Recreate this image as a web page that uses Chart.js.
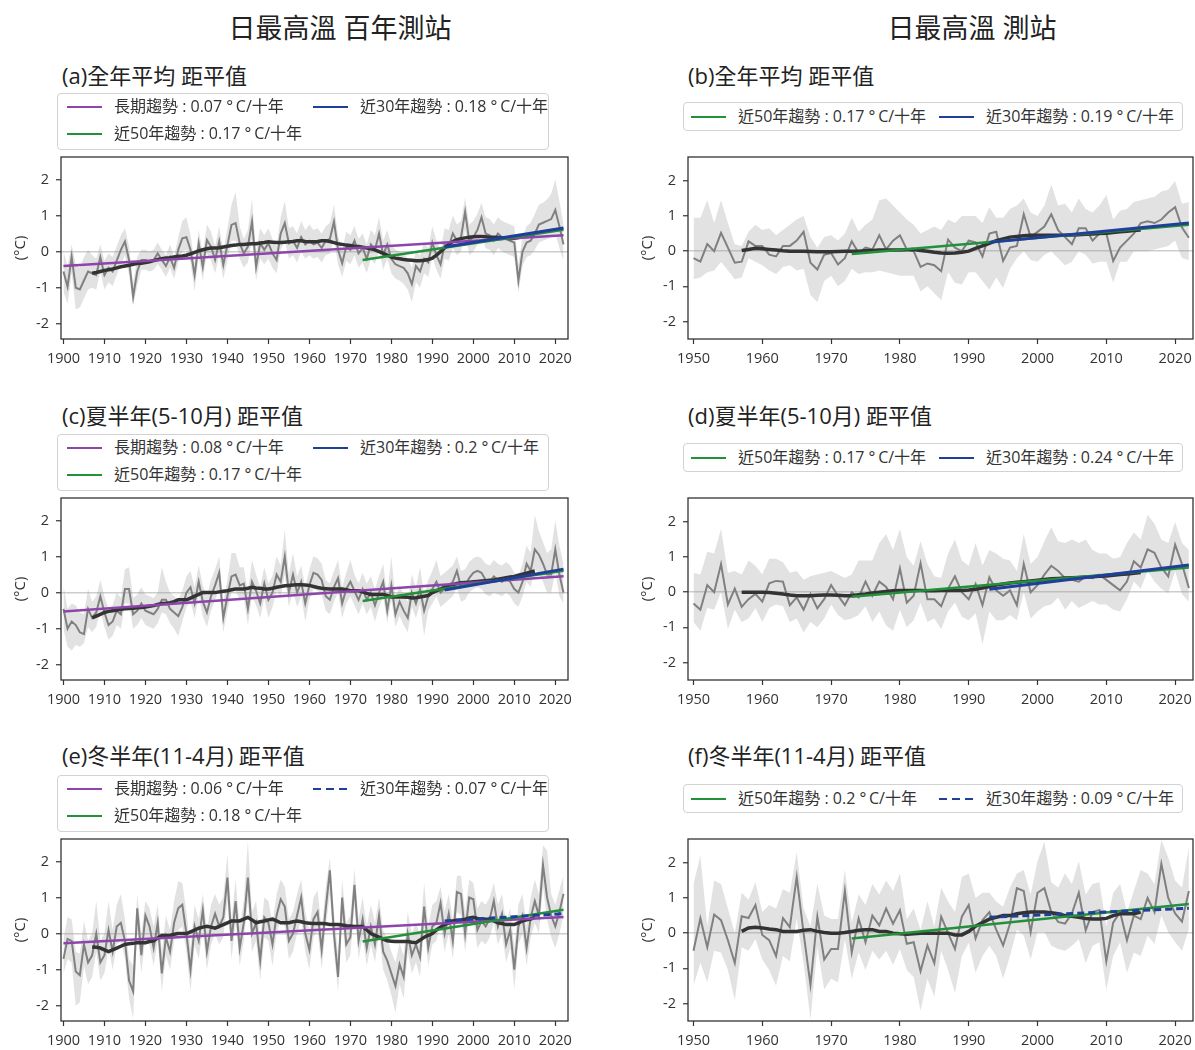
<!DOCTYPE html>
<html lang="zh-Hant">
<head>
<meta charset="utf-8">
<title>日最高溫 距平值</title>
<script src="https://cdn.jsdelivr.net/npm/chart.js@4.4.1/dist/chart.umd.min.js"></script>
<style>
  html, body { margin: 0; padding: 0; background: #fff; }
  body { position: relative; width: 1195px; height: 1050px; overflow: hidden;
         font-family: "Open Sans", "Noto Sans CJK TC", sans-serif; color: #222; }
  .abs { position: absolute; white-space: nowrap; }
  .head { font-size: 27px; line-height: 36px; top: 10px; transform: translateX(-50%); }
  .ptitle { font-size: 22px; line-height: 28px; }
  .legend { border: 1px solid #d2d2d2; border-radius: 4px; background: #fff; box-sizing: border-box; }
  .item { position: absolute; font-size: 16px; line-height: 20px; color: #333; }
  .swatch { position: absolute; width: 35px; height: 2.5px; }
  canvas { position: absolute; }
</style>
</head>
<body>
<script>
// ---------- years & ticks ----------
const leftStart = 1900, rightStart = 1950, lastYear = 2022;
const smoothStartLeft = 1907, smoothStartRight = 1957;
const tickYearsLeft = [1900, 1910, 1920, 1930, 1940, 1950, 1960, 1970, 1980, 1990, 2000, 2010, 2020];
const tickYearsRight = [1950, 1960, 1970, 1980, 1990, 2000, 2010, 2020];
const tickTemps = [-2, -1, 0, 1, 2];

// ---------- (a) century stations, annual ----------
const anomA = [
  -0.55,-0.97,-0.14,-1.0,-1.05,-0.8,-0.55,-0.6,-0.65,-0.15,
  -0.65,-0.45,-0.55,-0.25,0.05,0.28,-0.23,-1.25,-0.55,-0.23,
  -0.23,-0.28,-0.23,-0.05,-0.23,-0.4,-0.15,-0.45,0.05,0.37,
  0.4,0.05,-0.65,0.23,-0.42,0.32,0.14,-0.23,0.28,-0.37,
  0.18,0.74,0.79,0.23,-0.05,0.14,0.83,-0.42,0.23,0.05,
  0.23,-0.05,-0.23,0.5,0.79,0.23,0.3,0.1,0.4,0.2,
  0.3,0.2,0.25,0.1,0.3,0.35,0.83,0.05,-0.32,0.14,
  0.05,0.3,-0.05,0.1,-0.2,0.2,0.05,0.5,-0.1,0.2,
  -0.2,-0.35,-0.4,-0.45,-0.6,-0.9,-0.4,-0.55,-0.2,-0.3,
  0.25,-0.1,-0.35,0.2,0.15,0.5,0.3,0.4,1.1,0.3,
  0.4,0.6,0.95,0.5,0.45,0.3,0.5,0.4,0.35,0.3,
  0.25,-0.8,0.0,0.25,0.3,0.5,0.75,0.8,0.85,0.9,
  1.15,0.7,0.2];
const highA = [
  0.0,-0.4,0.2,-0.35,-0.45,-0.15,0.05,-0.1,-0.2,0.2,
  -0.25,-0.05,-0.15,0.15,0.45,0.65,0.15,-0.9,-0.15,0.05,
  0.05,0.0,0.05,0.25,0.05,-0.1,0.2,-0.15,0.4,0.85,
  0.95,0.45,-0.3,0.6,-0.05,0.75,0.55,0.15,0.7,0.0,
  0.65,1.3,1.65,0.7,0.35,0.6,1.45,0.0,0.65,0.45,
  0.65,0.35,0.15,0.95,1.4,0.65,0.7,0.5,0.85,0.6,
  0.75,0.6,0.65,0.5,0.7,0.8,1.3,0.45,0.05,0.55,
  0.45,0.7,0.35,0.5,0.2,0.6,0.45,0.95,0.3,0.6,
  0.2,0.05,0.0,-0.05,-0.2,-0.45,0.0,-0.1,0.25,0.1,
  0.7,0.3,0.05,0.65,0.6,1.0,0.75,0.85,1.5,0.75,
  0.85,1.05,1.35,0.95,0.9,0.75,0.95,0.85,0.8,0.75,
  0.7,-0.35,0.4,0.7,0.8,1.05,1.3,1.35,1.45,1.6,
  2.0,1.4,0.75];
const lowA = [
  -1.1,-1.45,-0.6,-1.6,-1.55,-1.3,-1.05,-1.0,-1.05,-0.55,
  -1.05,-0.85,-0.95,-0.65,-0.35,-0.1,-0.65,-1.5,-0.95,-0.5,
  -0.5,-0.55,-0.5,-0.35,-0.5,-0.7,-0.45,-0.75,-0.3,0.0,
  0.05,-0.3,-1.1,-0.15,-0.8,-0.05,-0.25,-0.6,-0.1,-0.75,
  -0.25,0.3,0.3,-0.2,-0.45,-0.3,0.35,-0.8,-0.2,-0.35,
  -0.2,-0.45,-0.6,0.05,0.3,-0.2,-0.1,-0.3,0.0,-0.2,
  -0.1,-0.2,-0.15,-0.3,-0.1,-0.05,0.35,-0.35,-0.7,-0.25,
  -0.35,-0.1,-0.45,-0.3,-0.6,-0.2,-0.35,0.05,-0.5,-0.2,
  -0.6,-0.75,-0.8,-0.9,-1.05,-1.4,-0.85,-1.0,-0.6,-0.7,
  -0.15,-0.5,-0.75,-0.2,-0.25,0.1,-0.1,0.0,0.6,-0.1,
  0.0,0.2,0.5,0.1,0.05,-0.1,0.1,0.0,-0.05,-0.1,
  -0.15,-1.15,-0.4,-0.15,-0.1,0.05,0.25,0.3,0.35,0.4,
  0.5,0.1,-0.25];
const smoothA = [
  -0.6,-0.58,-0.55,
  -0.52,-0.5,-0.48,-0.45,-0.42,-0.4,-0.38,-0.35,-0.33,-0.32,
  -0.3,-0.28,-0.25,-0.22,-0.2,-0.18,-0.17,-0.15,-0.13,-0.12,
  -0.1,-0.06,-0.02,0.02,0.05,0.08,0.1,0.1,0.11,0.13,
  0.15,0.17,0.18,0.2,0.2,0.21,0.22,0.22,0.24,0.25,
  0.27,0.26,0.25,0.25,0.26,0.27,0.28,0.3,0.3,0.28,
  0.27,0.27,0.28,0.3,0.3,0.28,0.25,0.22,0.2,0.18,
  0.17,0.15,0.14,0.12,0.1,0.08,0.05,0.0,-0.05,-0.1,
  -0.15,-0.18,-0.2,-0.22,-0.23,-0.24,-0.25,-0.25,-0.24,-0.22,
  -0.18,-0.1,0.0,0.1,0.2,0.28,0.33,0.36,0.38,0.4,
  0.41,0.42,0.42,0.41,0.4,0.4,0.39,0.38,0.37,0.36,
  0.37,0.39,0.42,0.45,0.48,0.5];
const slopesA = [0.07, 0.17, 0.18];
const trendStartA = [-0.4, -0.23, 0.13];

// ---------- (c) century stations, May-Oct ----------
const anomC = [
  -0.45,-1.0,-0.8,-0.9,-1.1,-1.15,-0.45,-0.7,-0.55,-0.1,
  -0.55,-0.9,-0.8,-0.5,-0.6,0.1,0.1,-0.6,-0.5,-0.3,
  -0.5,-0.55,-0.6,-0.45,-0.2,-0.2,-0.45,-0.55,-0.65,-0.4,
  0.0,0.15,-0.3,0.3,-0.25,-0.55,-0.1,0.2,0.55,-0.7,
  -0.1,0.45,0.5,0.2,0.25,-0.45,0.3,0.05,-0.3,0.25,
  -0.2,0.0,0.5,0.3,1.0,0.0,0.5,0.0,0.3,-0.3,
  0.2,0.55,0.5,0.35,-0.1,-0.2,0.15,0.4,-0.3,0.1,
  0.3,0.05,-0.2,0.1,-0.2,0.0,-0.35,0.0,0.3,-0.5,
  0.2,-0.6,-0.25,-0.5,-0.7,0.0,-0.3,0.1,-0.5,-0.1,
  0.1,0.3,0.0,0.1,0.2,0.3,0.6,0.15,0.2,0.4,
  0.55,0.6,0.55,0.35,0.3,0.45,0.35,0.3,0.4,0.3,
  0.1,0.0,0.3,0.8,0.6,1.2,1.05,0.8,0.5,0.5,
  1.2,0.5,0.0];
const highC = [
  0.2,-0.45,-0.3,-0.35,-0.55,-0.6,0.1,-0.25,-0.1,0.35,
  -0.1,-0.45,-0.35,0.0,-0.15,0.65,0.7,-0.15,-0.05,0.15,
  -0.05,-0.1,-0.15,0.0,0.7,0.3,0.0,-0.1,-0.2,0.05,
  0.45,0.6,0.15,0.75,0.2,-0.1,0.35,0.65,1.0,-0.25,
  0.35,1.1,1.1,0.7,0.7,0.0,0.9,0.5,0.15,0.7,
  0.25,0.45,1.0,0.75,1.75,0.5,1.1,0.45,0.75,0.15,
  0.65,1.0,0.95,0.8,0.35,0.25,0.6,0.9,0.15,0.55,
  0.9,0.5,0.25,0.55,0.25,0.45,0.1,0.45,0.8,-0.05,
  1.0,-0.15,0.2,-0.05,-0.25,0.5,0.15,0.7,-0.05,0.35,
  0.6,0.9,0.45,0.55,0.65,0.75,1.0,0.6,0.65,0.85,
  0.95,1.0,0.95,0.8,0.75,0.9,0.8,0.75,0.85,0.75,
  0.55,0.45,0.8,1.3,1.1,2.15,1.7,1.4,1.1,1.2,
  2.0,1.3,0.8];
const lowC = [
  -1.0,-1.5,-1.6,-1.45,-1.5,-1.4,-0.95,-1.1,-0.95,-0.5,
  -0.95,-1.3,-1.2,-0.9,-1.0,-0.3,-0.3,-1.0,-0.9,-0.7,
  -0.9,-0.95,-1.0,-0.85,-0.55,-0.6,-0.85,-1.0,-1.2,-0.8,
  -0.4,-0.25,-0.7,-0.1,-0.65,-0.95,-0.5,-0.2,0.1,-1.1,
  -0.5,0.0,0.05,-0.2,-0.15,-0.9,-0.1,-0.35,-0.7,-0.15,
  -0.7,-0.4,0.05,-0.1,0.5,-0.4,0.05,-0.4,-0.1,-0.8,
  -0.2,0.1,0.05,-0.05,-0.5,-0.6,-0.25,0.0,-0.7,-0.3,
  -0.1,-0.35,-0.6,-0.3,-0.6,-0.4,-0.8,-0.4,-0.1,-0.85,
  -0.2,-0.95,-0.65,-0.9,-1.1,-0.4,-0.7,-0.3,-1.2,-0.5,
  -0.3,-0.1,-0.4,-0.3,-0.2,-0.1,0.15,-0.25,-0.2,0.0,
  0.1,0.15,0.1,-0.05,-0.1,0.0,-0.05,-0.1,0.0,-0.1,
  -0.3,-0.4,-0.1,0.3,0.15,0.65,0.5,0.3,0.0,0.0,
  0.6,-0.1,-0.3];
const smoothC = [
  -0.7,-0.65,-0.6,
  -0.55,-0.52,-0.5,-0.48,-0.46,-0.45,-0.44,-0.43,-0.42,-0.41,
  -0.4,-0.38,-0.36,-0.33,-0.3,-0.3,-0.28,-0.25,-0.2,-0.2,
  -0.2,-0.15,-0.1,-0.05,0.0,0.0,0.0,0.0,0.02,0.04,
  0.05,0.08,0.1,0.1,0.1,0.12,0.15,0.13,0.12,0.1,
  0.1,0.12,0.15,0.17,0.19,0.2,0.21,0.22,0.22,0.21,
  0.2,0.17,0.14,0.12,0.11,0.1,0.1,0.1,0.1,0.08,
  0.05,0.05,0.05,0.02,-0.02,-0.05,-0.05,-0.05,-0.05,-0.08,
  -0.12,-0.12,-0.12,-0.12,-0.13,-0.15,-0.14,-0.12,-0.1,-0.08,
  0.0,0.05,0.1,0.15,0.2,0.22,0.25,0.27,0.28,0.29,
  0.3,0.31,0.32,0.33,0.34,0.35,0.37,0.39,0.41,0.43,
  0.45,0.48,0.51,0.54,0.57,0.6];
const slopesC = [0.08, 0.17, 0.2];
const trendStartC = [-0.52, -0.23, 0.07];

// ---------- (e) century stations, Nov-Apr ----------
const anomE = [
  -0.7,-0.15,-0.2,-1.05,-1.15,-0.3,-0.8,-0.6,0.0,-0.8,
  -0.6,0.1,-0.5,0.2,0.3,-0.2,-1.3,-1.6,0.7,-0.6,
  0.5,0.2,-0.4,0.3,-1.1,-0.1,-0.5,0.3,0.7,0.8,
  0.0,-1.0,0.2,-0.2,0.65,-0.5,0.2,0.55,0.2,0.45,
  1.55,-0.2,0.9,-0.4,0.3,1.55,0.0,0.3,-0.75,0.45,
  0.3,-0.3,0.5,0.95,0.75,-0.2,0.0,0.5,1.0,0.0,
  -0.45,0.4,0.6,-0.45,0.7,1.75,0.0,-1.2,1.0,-0.3,
  -0.1,1.35,-0.2,0.4,-0.4,0.2,-0.3,0.5,-0.5,-0.75,
  -1.1,-1.45,-0.85,-1.2,0.0,-0.6,-0.3,-0.65,0.75,-0.4,
  0.2,0.3,0.85,0.0,0.55,-0.2,1.15,1.1,0.0,1.0,
  0.95,0.1,0.35,0.2,0.4,0.9,0.2,0.55,-0.3,0.1,
  -1.0,0.2,0.5,-0.4,0.45,0.9,0.5,1.9,1.0,0.5,
  0.2,0.6,1.1];
const highE = [
  -0.15,0.45,0.4,-0.5,-0.55,0.35,-0.2,0.0,0.9,-0.2,
  0.0,0.9,0.1,0.8,1.1,0.4,-0.7,-0.9,1.1,0.0,
  0.9,0.7,0.2,0.8,-0.5,0.5,0.1,0.9,1.45,1.4,
  0.6,-0.4,0.8,0.4,1.1,0.1,0.8,1.1,0.8,1.0,
  2.2,0.4,1.5,0.2,0.9,2.55,0.6,0.9,-0.15,1.0,
  0.9,0.3,1.1,1.5,1.3,0.4,0.6,1.1,1.5,0.6,
  0.1,1.0,1.2,0.1,1.3,2.1,0.6,-0.6,1.5,0.3,
  0.5,1.8,0.4,1.0,0.2,0.8,0.3,1.0,0.1,-0.15,
  -0.5,-0.8,-0.25,-0.6,0.6,0.0,0.3,-0.05,1.4,0.2,
  0.8,0.9,1.3,0.6,1.1,0.4,1.6,1.6,0.6,1.5,
  1.4,0.7,0.9,0.8,1.0,1.4,0.8,1.1,0.3,0.7,
  -0.4,0.8,1.1,0.2,1.0,1.5,1.1,2.45,2.3,1.1,
  0.8,1.2,1.6];
const lowE = [
  -1.1,-0.7,-0.8,-2.0,-1.9,-0.9,-1.4,-1.2,-0.5,-1.3,
  -1.1,-0.4,-1.0,-0.3,-0.2,-0.7,-1.8,-2.35,0.1,-1.1,
  -0.1,-0.3,-0.9,-0.2,-1.6,-0.6,-1.0,-0.2,0.1,0.2,
  -0.5,-1.6,-0.3,-0.7,0.1,-1.0,-0.3,0.0,-0.3,-0.1,
  0.9,-0.7,0.3,-0.9,-0.2,0.9,-0.5,-0.2,-1.3,-0.1,
  -0.2,-0.9,0.0,0.4,0.2,-0.7,-0.5,0.0,0.4,-0.5,
  -1.0,-0.1,0.1,-1.0,0.2,1.1,-0.5,-1.6,0.4,-0.8,
  -0.6,0.8,-0.7,-0.1,-0.9,-0.3,-0.8,0.0,-1.0,-1.3,
  -1.7,-2.2,-1.4,-1.8,-0.5,-1.1,-0.8,-1.2,0.2,-0.9,
  -0.3,-0.2,0.3,-0.5,0.0,-0.7,0.6,0.5,-0.5,0.4,
  0.4,-0.4,-0.2,-0.3,-0.1,0.3,-0.3,0.0,-0.8,-0.4,
  -1.55,-0.3,0.0,-0.9,-0.1,0.3,0.0,1.3,0.4,-0.1,
  -0.4,0.0,0.5];
const smoothE = [
  -0.37,-0.38,-0.4,
  -0.45,-0.5,-0.45,-0.4,-0.35,-0.3,-0.28,-0.27,-0.25,-0.25,
  -0.25,-0.22,-0.2,-0.12,-0.05,-0.05,-0.05,-0.02,0.0,0.0,
  0.0,0.05,0.1,0.15,0.18,0.2,0.18,0.15,0.2,0.25,
  0.3,0.35,0.35,0.35,0.4,0.45,0.38,0.3,0.33,0.35,
  0.38,0.4,0.35,0.3,0.3,0.3,0.33,0.35,0.33,0.3,
  0.29,0.28,0.28,0.28,0.27,0.25,0.25,0.25,0.24,0.22,
  0.21,0.2,0.2,0.2,0.1,0.0,-0.05,-0.1,-0.15,-0.2,
  -0.21,-0.22,-0.22,-0.22,-0.22,-0.24,-0.25,-0.18,-0.1,-0.05,
  0.0,0.1,0.18,0.25,0.3,0.35,0.37,0.38,0.4,0.43,
  0.45,0.42,0.4,0.4,0.4,0.35,0.3,0.28,0.25,0.25,
  0.25,0.3,0.35,0.38,0.4,0.45];
const slopesE = [0.06, 0.18, 0.07];
const trendStartE = [-0.27, -0.22, 0.35];

// ---------- (b) all stations, annual ----------
const anomB = [
  -0.2,-0.3,0.2,0.0,0.52,0.1,-0.33,-0.3,0.28,0.15,
  0.15,-0.1,-0.15,0.15,0.15,0.3,0.55,-0.33,-0.52,-0.1,
  -0.05,-0.38,-0.2,0.28,-0.05,0.1,0.05,0.45,0.05,0.3,
  0.45,0.05,0.0,-0.45,-0.35,-0.4,-0.57,0.33,0.1,0.0,
  0.3,0.25,-0.15,0.5,0.55,-0.28,0.1,0.15,1.05,0.4,
  0.55,0.7,1.05,0.6,0.4,0.2,0.65,0.65,0.3,0.5,
  0.5,-0.28,0.1,0.3,0.5,0.8,0.85,0.8,0.9,1.1,
  1.25,0.67,0.38];
const highB = [
  0.95,0.95,1.45,0.8,1.45,0.8,0.2,0.15,0.55,0.75,
  0.6,0.65,0.45,0.6,0.75,0.9,1.0,0.4,0.1,0.4,
  0.45,0.3,0.5,0.95,0.55,0.75,0.9,1.45,1.5,1.3,
  1.1,0.9,0.75,0.5,0.6,0.7,0.6,0.9,0.8,1.0,
  1.0,1.0,0.8,1.25,0.95,0.95,1.2,1.3,1.5,1.1,
  1.0,1.3,1.9,1.3,1.35,1.1,1.5,1.2,1.1,1.3,
  1.6,0.9,1.15,1.2,1.4,1.45,1.5,1.55,1.7,1.75,
  2.0,1.35,1.4];
const lowB = [
  -0.8,-0.75,-0.6,-0.55,-0.3,-0.55,-0.8,-0.75,-0.2,-0.3,
  -0.4,-0.55,-0.65,-0.45,-0.4,-0.55,-0.5,-1.25,-1.45,-0.85,
  -0.7,-1.0,-0.85,-0.5,-0.65,-0.6,-0.6,-0.55,-0.6,-0.65,
  -0.7,-0.7,-0.7,-1.15,-1.0,-1.2,-1.4,-0.6,-0.9,-0.95,
  -0.6,-0.6,-0.85,-1.1,-0.75,-1.05,-0.5,-0.2,0.0,-0.25,
  -0.3,-0.1,0.0,-0.2,-0.4,-0.3,0.0,-0.1,-0.35,-0.3,
  -0.3,-0.9,-0.3,-0.3,0.0,0.0,0.0,0.05,0.1,0.15,
  0.3,-0.2,-0.25];
const smoothB = [
  0.02,0.05,0.08,
  0.07,0.05,0.03,0.01,0.0,0.0,0.0,-0.01,-0.02,-0.02,
  -0.02,-0.01,0.0,0.0,0.0,0.01,0.02,0.03,0.03,0.03,
  0.03,0.04,0.05,0.02,0.0,-0.03,-0.05,-0.06,-0.05,-0.03,
  0.0,0.08,0.15,0.22,0.3,0.35,0.4,0.42,0.44,0.45,
  0.45,0.45,0.45,0.45,0.45,0.46,0.47,0.48,0.49,0.5,
  0.51,0.53,0.55,0.57,0.59,0.6];
const slopesB = [0.17, 0.19];
const trendStartB = [-0.08, 0.25];

// ---------- (d) all stations, May-Oct ----------
const anomD = [
  -0.32,-0.5,0.2,0.0,0.8,-0.35,0.1,-0.42,-0.2,-0.05,
  -0.27,0.25,0.32,0.3,-0.37,-0.15,-0.5,-0.05,-0.46,-0.2,
  0.2,-0.1,-0.37,0.0,-0.15,0.3,-0.1,0.3,0.15,-0.2,
  0.68,-0.3,-0.1,0.82,-0.2,-0.2,-0.4,0.1,0.45,0.0,
  -0.2,0.23,-0.37,0.42,0.05,-0.1,0.05,-0.37,0.8,0.0,
  0.2,0.5,0.75,0.6,0.4,0.35,0.3,0.45,0.4,0.5,
  0.35,0.2,0.05,0.3,0.88,0.7,1.22,1.12,0.7,0.45,
  1.35,0.8,0.12];
const highD = [
  0.55,0.5,1.15,1.1,1.8,0.55,0.6,0.5,0.9,0.75,
  0.5,0.95,0.95,0.85,0.55,0.6,0.35,0.45,0.5,0.55,
  0.6,0.5,0.4,0.5,0.9,0.9,0.9,1.4,1.65,1.2,
  1.8,1.0,0.75,1.45,0.8,0.45,0.4,1.1,1.5,0.9,
  0.75,1.4,0.75,1.2,1.1,0.95,0.9,0.6,1.65,0.8,
  1.0,1.45,1.85,1.45,1.4,1.5,1.4,1.5,1.2,1.1,
  1.1,0.95,1.0,1.4,1.7,1.5,2.2,1.95,1.5,1.4,
  2.0,1.4,1.2];
const lowD = [
  -0.85,-1.1,-0.45,-0.5,0.0,-1.05,-0.5,-0.85,-0.75,-0.45,
  -0.85,-0.45,-0.35,-0.4,-0.85,-0.75,-1.15,-0.85,-1.0,-0.75,
  -0.35,-0.65,-0.8,-0.75,-0.65,-0.4,-0.85,-0.55,-0.95,-1.1,
  -0.5,-1.0,-0.8,-0.3,-0.85,-0.75,-1.05,-0.55,-0.3,-0.7,
  -0.8,-0.6,-1.48,-0.55,-0.8,-0.8,-0.65,-0.8,0.0,-0.75,
  -0.55,-0.4,-0.35,-0.15,-0.5,-0.25,-0.45,-0.35,-0.25,-0.35,
  -0.35,-0.5,-0.55,-0.2,0.3,0.1,0.6,0.3,0.1,-0.03,
  0.6,-0.05,-0.27];
const smoothD = [
  0.0,0.0,0.0,
  0.0,-0.01,-0.03,-0.05,-0.08,-0.1,-0.1,-0.1,-0.09,-0.08,
  -0.08,-0.09,-0.1,-0.1,-0.07,-0.05,-0.02,0.0,0.02,0.04,
  0.05,0.05,0.05,0.05,0.04,0.04,0.05,0.05,0.05,0.05,
  0.06,0.08,0.12,0.16,0.2,0.23,0.26,0.28,0.3,0.32,
  0.34,0.36,0.38,0.39,0.4,0.41,0.42,0.43,0.44,0.45,
  0.46,0.48,0.5,0.52,0.54,0.56];
const slopesD = [0.17, 0.24];
const trendStartD = [-0.13, 0.08];

// ---------- (f) all stations, Nov-Apr ----------
const anomF = [
  -0.5,0.42,-0.4,0.53,0.37,-0.2,-0.85,0.48,0.43,0.8,
  -0.05,-0.2,-0.65,0.43,0.17,1.6,0.0,-1.47,0.47,-0.75,
  -0.45,-0.45,1.2,-0.55,0.42,-0.26,0.5,0.22,0.7,0.27,
  0.65,-0.3,-0.26,-1.08,-0.35,-0.85,0.47,0.0,-0.45,0.47,
  0.8,-0.15,0.37,0.6,0.1,-0.35,0.27,1.28,1.2,0.03,
  1.15,1.28,0.6,0.32,0.27,0.56,1.15,0.08,0.6,0.66,
  -0.8,0.3,0.6,-0.2,0.5,0.4,1.0,0.6,1.97,1.0,
  0.56,0.33,1.2];
const highF = [
  1.4,2.2,0.2,1.5,1.4,0.7,0.0,1.15,0.95,1.45,
  0.6,0.8,0.7,1.25,1.15,2.3,0.7,0.2,1.4,0.5,
  0.4,0.4,1.8,0.3,1.1,0.8,1.4,1.1,1.5,1.2,
  1.7,0.4,0.7,0.1,0.9,0.2,1.3,0.9,0.6,1.6,
  1.7,1.0,1.15,1.15,0.9,0.75,1.3,1.7,1.8,1.1,
  2.05,2.6,1.45,1.3,1.7,1.4,2.05,1.1,1.4,1.45,
  0.2,1.15,1.4,0.6,1.2,1.8,1.7,1.4,2.65,2.15,
  1.5,1.3,2.45];
const lowF = [
  -1.5,-0.85,-1.4,-0.5,-0.55,-1.05,-1.9,-0.4,-0.5,-0.17,
  -0.75,-1.05,-1.5,-0.65,-0.8,0.4,-0.85,-2.45,-0.4,-1.6,
  -1.3,-1.4,-0.17,-1.3,-0.55,-1.05,-0.5,-0.75,-0.5,-0.9,
  -0.45,-1.05,-1.25,-2.2,-1.3,-1.8,-0.5,-1.05,-1.7,-0.65,
  -0.27,-1.13,-0.65,-0.36,-0.65,-1.3,-0.65,0.1,-0.07,-0.75,
  0.03,0.03,-0.36,-0.45,-0.5,-0.36,-0.17,-0.85,-0.36,-0.26,
  -1.6,-0.65,-0.26,-1.13,-0.55,-0.65,-0.07,-0.3,0.5,0.03,
  -0.26,-0.5,0.12];
const smoothF = [
  0.05,0.15,0.17,
  0.15,0.12,0.1,0.05,0.05,0.05,0.08,0.1,0.05,0.02,
  0.0,0.0,0.02,0.05,0.08,0.1,0.1,0.05,0.05,0.0,
  -0.02,-0.03,-0.02,0.0,0.0,0.0,0.0,0.0,-0.05,-0.05,
  0.05,0.2,0.3,0.4,0.45,0.5,0.5,0.55,0.58,0.6,
  0.6,0.6,0.58,0.55,0.5,0.48,0.45,0.42,0.4,0.4,
  0.42,0.5,0.55,0.55,0.55,0.6];
const slopesF = [0.2, 0.09];
const trendStartF = [-0.15, 0.45];

// ---------- trend definitions ----------
const trendNamesLeft = ['長期趨勢', '近50年趨勢', '近30年趨勢'];
const trendFromLeft = [1900, 1973, 1993];
const trendNamesRight = ['近50年趨勢', '近30年趨勢'];
const trendFromRight = [1973, 1993];

// ---------- styling ----------
const FONT = '"Open Sans", "Noto Sans CJK TC", sans-serif';
const COLORS = { purple: '#8e44ad', green: '#23903a', blue: '#1f3f98', gray: '#808080', dark: '#333333', band: 'rgba(150,150,150,0.28)' };
const rowPlotTop = [157, 498, 839];
const rowPlotBottom = [339, 680, 1021];
const rowTitleTop = [61, 401, 741];
const rowLegendTopLeft = [93, 434, 775];
const rowLegendTopRight = [102, 443, 784];

const columns = [
  { canvasLeft: 0, width: 580, axisW: 61, padRight: 12, xMin: 1899.4, xMax: 2023.1, yMin: -2.42, yMax: 2.62,
    ticks: tickYearsLeft, start: leftStart, smoothStart: smoothStartLeft, names: trendNamesLeft, from: trendFromLeft,
    titleLeft: 62, titlePad: 12, legendLeft: 57, legendW: 492, legendH: 57,
    slots: [[9, 13], [9, 40], [255, 13]], trendColors: [COLORS.purple, COLORS.green, COLORS.blue] },
  { canvasLeft: 630, width: 565, axisW: 58, padRight: 2, xMin: 1949.2, xMax: 2022.6, yMin: -2.5, yMax: 2.68,
    ticks: tickYearsRight, start: rightStart, smoothStart: smoothStartRight, names: trendNamesRight, from: trendFromRight,
    titleLeft: 688, titlePad: 9, legendLeft: 683, legendW: 500, legendH: 29,
    slots: [[7, 14], [255, 14]], trendColors: [COLORS.green, COLORS.blue] }
];

const panels = [
  { col: 0, row: 0, title: '(a)全年平均 距平值', anom: anomA, high: highA, low: lowA, smooth: smoothA, slopes: slopesA, starts: trendStartA, dashedRecent: false },
  { col: 1, row: 0, title: '(b)全年平均 距平值', anom: anomB, high: highB, low: lowB, smooth: smoothB, slopes: slopesB, starts: trendStartB, dashedRecent: false },
  { col: 0, row: 1, title: '(c)夏半年(5-10月) 距平值', anom: anomC, high: highC, low: lowC, smooth: smoothC, slopes: slopesC, starts: trendStartC, dashedRecent: false },
  { col: 1, row: 1, title: '(d)夏半年(5-10月) 距平值', anom: anomD, high: highD, low: lowD, smooth: smoothD, slopes: slopesD, starts: trendStartD, dashedRecent: false },
  { col: 0, row: 2, title: '(e)冬半年(11-4月) 距平值', anom: anomE, high: highE, low: lowE, smooth: smoothE, slopes: slopesE, starts: trendStartE, dashedRecent: true },
  { col: 1, row: 2, title: '(f)冬半年(11-4月) 距平值', anom: anomF, high: highF, low: lowF, smooth: smoothF, slopes: slopesF, starts: trendStartF, dashedRecent: true }
];

// ---------- helpers ----------
function addText(cls, text, left, top) {
  const d = document.createElement('div');
  d.className = 'abs ' + cls;
  d.textContent = text;
  d.style.left = left + 'px';
  d.style.top = top + 'px';
  document.body.appendChild(d);
  return d;
}
const series = (start, vals) => vals.map((v, i) => ({ x: start + i, y: v }));
const trendLine = (from, to, y0, slope) => [{ x: from, y: y0 }, { x: to, y: y0 + slope * (to - from) / 10 }];
const trendLabel = (name, slope) => name + ' : ' + slope + ' \u00B0\u2009C/十年';

// frame around the plotting area
const framePlugin = {
  id: 'frame',
  afterDatasetsDraw(chart) {
    const a = chart.chartArea, c = chart.ctx;
    c.save();
    c.strokeStyle = '#333';
    c.lineWidth = 1.3;
    c.strokeRect(a.left, a.top, a.right - a.left, a.bottom - a.top);
    c.restore();
  }
};

// ---------- column headers ----------
addText('head', '日最高溫 百年測站', 340, 10);
addText('head', '日最高溫 測站', 972, 10);

// ---------- panels ----------
panels.forEach(p => {
  const col = columns[p.col];
  const top = rowPlotTop[p.row], bottom = rowPlotBottom[p.row];
  const padTop = 10, xAxisH = 34;

  addText('ptitle', p.title, col.titleLeft, rowTitleTop[p.row]);

  // trend datasets
  const trends = p.slopes.map((s, i) => {
    const isRecent = col.names[i] === '近30年趨勢';
    return {
      label: trendLabel(col.names[i], s),
      data: trendLine(col.from[i], lastYear, p.starts[i], s),
      borderColor: col.trendColors[i],
      borderWidth: isRecent ? 3 : 2.5,
      borderDash: (isRecent && p.dashedRecent) ? [7, 4] : [],
      order: 5 - i * 0.1 - (isRecent ? 1 : 0),
      pointRadius: 0, fill: false, tension: 0
    };
  });

  const datasets = [
    { label: 'low', data: series(col.start, p.low), borderWidth: 0, borderColor: 'rgba(0,0,0,0)', pointRadius: 0, fill: false, order: 20 },
    { label: 'high', data: series(col.start, p.high), borderWidth: 0, borderColor: 'rgba(0,0,0,0)', backgroundColor: COLORS.band, pointRadius: 0, fill: '-1', order: 19 },
    { label: 'anom', data: series(col.start, p.anom), borderColor: COLORS.gray, borderWidth: 2, pointRadius: 0, fill: false, order: 18, tension: 0 },
    { label: 'smooth', data: series(col.smoothStart, p.smooth), borderColor: COLORS.dark, borderWidth: 3.5, pointRadius: 0, fill: false, order: 17, tension: 0 },
    ...trends
  ];

  const canvas = document.createElement('canvas');
  const h = (bottom - top) + padTop + xAxisH;
  canvas.width = col.width;
  canvas.height = h;
  canvas.style.left = col.canvasLeft + 'px';
  canvas.style.top = (top - padTop) + 'px';
  canvas.style.width = col.width + 'px';
  canvas.style.height = h + 'px';
  document.body.appendChild(canvas);

  new Chart(canvas, {
    type: 'line',
    data: { datasets },
    plugins: [framePlugin],
    options: {
      responsive: false, animation: false, devicePixelRatio: 1,
      layout: { padding: { top: padTop, right: col.padRight, left: 0, bottom: 0 } },
      plugins: { legend: { display: false }, tooltip: { enabled: false } },
      scales: {
        x: {
          type: 'linear', min: col.xMin, max: col.xMax,
          afterBuildTicks: s => { s.ticks = col.ticks.map(v => ({ value: v })); },
          afterFit: s => { s.height = xAxisH; s.paddingLeft = 0; s.paddingRight = 0; },
          border: { display: false },
          grid: { drawOnChartArea: false, drawTicks: true, tickLength: 5, tickColor: '#333', tickWidth: 1.2 },
          ticks: { font: { family: FONT, size: 14.5 }, color: '#333', padding: 6, maxRotation: 0, autoSkip: false, callback: v => String(v) }
        },
        y: {
          type: 'linear', min: col.yMin, max: col.yMax,
          afterBuildTicks: s => { s.ticks = tickTemps.map(v => ({ value: v })); },
          afterFit: s => { s.width = col.axisW; s.paddingTop = 0; s.paddingBottom = 0; },
          border: { display: false },
          grid: {
            drawOnChartArea: true, drawTicks: true, tickLength: 5, tickColor: '#333', tickWidth: 1.2,
            color: c => (c.tick && c.tick.value === 0) ? '#cdcdcd' : 'rgba(0,0,0,0)', lineWidth: 1.5
          },
          title: { display: true, text: '(\u00B0C)', color: '#333', font: { family: FONT, size: 15 }, padding: { top: col.titlePad, bottom: 0 } },
          ticks: { font: { family: FONT, size: 14.5 }, color: '#333', padding: 7, autoSkip: false, callback: v => String(v) }
        }
      }
    }
  });

  // legend box, entries follow the trend dataset order
  const isLeft = p.col === 0;
  const box = document.createElement('div');
  box.className = 'abs legend';
  box.style.left = col.legendLeft + 'px';
  box.style.top = (isLeft ? rowLegendTopLeft[p.row] : rowLegendTopRight[p.row]) + 'px';
  box.style.width = col.legendW + 'px';
  box.style.height = col.legendH + 'px';
  trends.forEach((t, i) => {
    const [sx, sy] = col.slots[i];
    const sw = document.createElement('div');
    sw.className = 'swatch';
    sw.style.left = sx + 'px';
    sw.style.top = (sy - 1.5) + 'px';
    sw.style.background = t.borderDash.length
      ? `repeating-linear-gradient(90deg, ${t.borderColor} 0 8px, transparent 8px 13px)`
      : t.borderColor;
    box.appendChild(sw);
    const tx = document.createElement('div');
    tx.className = 'item';
    tx.textContent = t.label;
    tx.style.left = (sx + 47) + 'px';
    tx.style.top = (sy - 11) + 'px';
    box.appendChild(tx);
  });
  document.body.appendChild(box);
});
</script>
</body>
</html>
